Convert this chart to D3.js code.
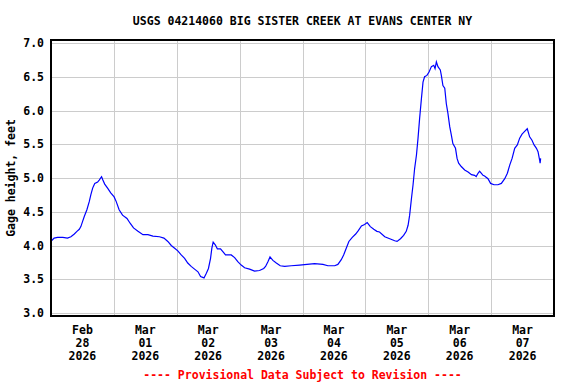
<!DOCTYPE html>
<html>
<head>
<meta charset="utf-8">
<script src="https://cdn.jsdelivr.net/npm/d3@7"></script>
<style>
  body { margin: 0; background: #fff; }
  text { font-family: "DejaVu Sans Mono", monospace; font-weight: bold; }
</style>
</head>
<body>
<svg width="576" height="384"></svg>
<script>
// gage height readings, hours after Feb 28 2026 00:00
var hours = [0.2, 1.2, 2.5, 4.5, 6.3, 7.6, 8.9, 9.9, 10.8, 11.4, 12.0, 12.7, 13.7, 14.6, 15.2, 15.9, 16.7, 17.8, 18.4, 19.3,
  19.8, 20.5, 21.6, 22.8, 24.1, 24.9, 26.0, 27.3, 29.0, 30.2, 31.5, 33.2, 35.1, 37.0, 38.9, 41.4, 43.1, 44.6, 45.9, 47.2,
  48.4, 49.7, 51.0, 52.2, 53.5, 54.8, 56.1, 57.1, 58.4, 59.3, 60.1, 60.9, 61.4, 61.9, 62.7, 63.5, 64.7, 66.0, 66.6, 68.8,
  70.1, 71.3, 72.6, 73.9, 75.8, 77.7, 79.6, 81.2, 81.9, 82.8, 83.6, 84.7, 86.0, 87.5, 89.2, 91.7, 94.9, 97.7, 100.6, 103.8,
  105.7, 108.3, 109.5, 110.8, 111.7, 112.7, 113.7, 115.0, 116.3, 117.3, 118.5, 119.7, 120.7, 121.9, 123.2, 124.4, 125.4, 127.4, 129.3, 131.2,
  132.1, 133.4, 134.6, 135.6, 136.3, 136.9, 137.6, 138.2, 138.8, 139.5, 140.1, 140.7, 141.4, 142.0, 142.6, 143.5, 144.3, 145.2, 146.1, 146.6,
  147.1, 147.7, 148.6, 149.0, 149.6, 150.3, 150.9, 151.5, 152.2, 152.8, 153.4, 154.4, 155.0, 155.6, 156.6, 157.9, 159.2, 160.5, 161.7, 162.3,
  163.0, 163.6, 164.3, 164.9, 165.5, 166.8, 167.8, 169.1, 170.6, 171.9, 173.2, 174.2, 175.1, 176.0, 177.0, 178.0, 178.9, 179.8, 180.8, 181.8,
  182.7, 183.6, 184.4, 185.3, 185.9, 186.5, 186.7, 186.9];
var gage = [4.07, 4.11, 4.12, 4.12, 4.11, 4.13, 4.17, 4.21, 4.24, 4.28, 4.35, 4.43, 4.53, 4.65, 4.75, 4.85, 4.92, 4.94, 4.97, 5.02,
  4.97, 4.91, 4.85, 4.78, 4.72, 4.65, 4.53, 4.45, 4.40, 4.33, 4.26, 4.21, 4.16, 4.16, 4.14, 4.13, 4.11, 4.06, 4.00, 3.96,
  3.92, 3.86, 3.81, 3.74, 3.69, 3.65, 3.61, 3.54, 3.52, 3.59, 3.66, 3.81, 3.96, 4.05, 4.01, 3.95, 3.95, 3.89, 3.86, 3.86,
  3.82, 3.76, 3.71, 3.67, 3.65, 3.62, 3.63, 3.66, 3.69, 3.76, 3.83, 3.78, 3.74, 3.70, 3.69, 3.70, 3.71, 3.72, 3.73, 3.72,
  3.70, 3.70, 3.72, 3.79, 3.86, 3.96, 4.06, 4.12, 4.17, 4.22, 4.29, 4.31, 4.34, 4.28, 4.24, 4.21, 4.20, 4.13, 4.10, 4.07,
  4.06, 4.10, 4.15, 4.21, 4.30, 4.45, 4.70, 4.90, 5.14, 5.34, 5.59, 5.88, 6.18, 6.42, 6.50, 6.52, 6.57, 6.65, 6.67, 6.62,
  6.72, 6.65, 6.60, 6.52, 6.37, 6.33, 6.10, 5.96, 5.76, 5.64, 5.51, 5.44, 5.29, 5.22, 5.17, 5.12, 5.09, 5.05, 5.04, 5.02,
  5.07, 5.10, 5.07, 5.04, 5.03, 4.99, 4.92, 4.90, 4.90, 4.92, 4.99, 5.07, 5.19, 5.29, 5.44, 5.49, 5.59, 5.65, 5.69, 5.73,
  5.61, 5.56, 5.49, 5.44, 5.39, 5.27, 5.22, 5.29];

var yTicks = [3.0, 3.5, 4.0, 4.5, 5.0, 5.5, 6.0, 6.5, 7.0];
var dayLabels = [["Feb", "28", "2026"], ["Mar", "01", "2026"], ["Mar", "02", "2026"], ["Mar", "03", "2026"],
  ["Mar", "04", "2026"], ["Mar", "05", "2026"], ["Mar", "06", "2026"], ["Mar", "07", "2026"]];

var title = "USGS 04214060 BIG SISTER CREEK AT EVANS CENTER NY";
var yTitle = "Gage height, feet";
var footer = "---- Provisional Data Subject to Revision ----";

var svg = d3.select("svg");

var frame = { left: 51, right: 554, top: 40, bottom: 316 };

var start = new Date(2026, 1, 28);
var end = new Date(2026, 2, 8);

var x = d3.scaleTime()
  .domain([start, end])
  .range([frame.left, frame.right]);

var y = d3.scaleLinear()
  .domain([3, 7])
  .range([313, 43]);

var data = hours.map(function(h, i) {
  return { t: new Date(start.getTime() + h * 3600e3), v: gage[i] };
});

// grid
var days = d3.timeDay.range(d3.timeDay.offset(start, 1), end);
svg.append("g")
  .selectAll("line")
  .data(days)
  .enter().append("line")
  .attr("x1", d => Math.round(x(d)) + 0.5)
  .attr("x2", d => Math.round(x(d)) + 0.5)
  .attr("y1", frame.top)
  .attr("y2", frame.bottom)
  .attr("stroke", "#cccccc")
  .attr("stroke-width", 1);

svg.append("g")
  .selectAll("line")
  .data(yTicks)
  .enter().append("line")
  .attr("x1", frame.left)
  .attr("x2", frame.right)
  .attr("y1", d => Math.round(y(d)) + 0.5)
  .attr("y2", d => Math.round(y(d)) + 0.5)
  .attr("stroke", "#cccccc")
  .attr("stroke-width", 1);

// the series
var line = d3.line()
  .x(d => x(d.t))
  .y(d => y(d.v));

svg.append("path")
  .datum(data)
  .attr("fill", "none")
  .attr("stroke", "#0000ff")
  .attr("stroke-width", 1.2)
  .attr("d", line);

// frame
svg.append("rect")
  .attr("x", frame.left)
  .attr("y", frame.top)
  .attr("width", frame.right - frame.left)
  .attr("height", frame.bottom - frame.top)
  .attr("fill", "none")
  .attr("stroke", "#000")
  .attr("stroke-width", 2);

// y tick labels
svg.append("g")
  .selectAll("text")
  .data(yTicks)
  .enter().append("text")
  .attr("x", 44)
  .attr("y", d => y(d) + 4)
  .attr("text-anchor", "end")
  .attr("font-size", "11.5px")
  .text(d => d3.format(".1f")(d));

// x tick labels at midday
var xl = svg.append("g")
  .selectAll("text")
  .data(dayLabels)
  .enter().append("text")
  .attr("text-anchor", "middle")
  .attr("font-size", "11.5px")
  .attr("transform", (d, i) => "translate(" + x(new Date(2026, 1, 28 + i, 12)) + ",0)");
[334, 347, 360].forEach(function(yy, k) {
  xl.append("tspan").attr("x", 0).attr("y", yy).text(d => d[k]);
});

svg.append("text")
  .attr("x", (frame.left + frame.right) / 2)
  .attr("y", 25)
  .attr("text-anchor", "middle")
  .attr("font-size", "11.5px")
  .text(title);

svg.append("text")
  .attr("transform", "translate(15," + (frame.top + frame.bottom) / 2 + ") rotate(-90)")
  .attr("text-anchor", "middle")
  .attr("font-size", "11.5px")
  .text(yTitle);

svg.append("text")
  .attr("x", (frame.left + frame.right) / 2)
  .attr("y", 379)
  .attr("text-anchor", "middle")
  .attr("font-size", "11.5px")
  .attr("fill", "#ff0000")
  .text(footer);
</script>
</body>
</html>
